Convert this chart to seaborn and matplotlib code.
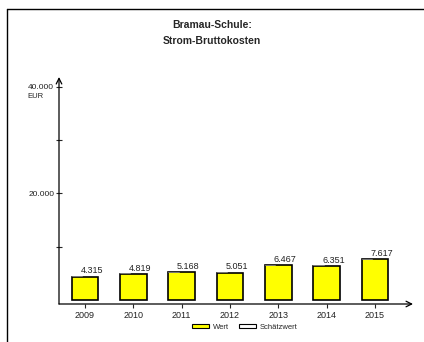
import matplotlib
matplotlib.use("Agg")
import pandas as pd
import seaborn as sns
import matplotlib.pyplot as plt
from matplotlib.lines import Line2D
from matplotlib.patches import Patch

years = ["2009", "2010", "2011", "2012", "2013", "2014", "2015"]
wert = [4315, 4819, 5168, 5051, 6467, 6351, 7617]
value_labels = ["4.315", "4.819", "5.168", "5.051", "6.467", "6.351", "7.617"]
y_ticks = [10000, 20000, 30000, 40000]
y_ticklabels = ["", "20.000", "", "40.000"]

sns.set_style("white")
plt.rcParams['font.family'] = ['Liberation Sans', 'DejaVu Sans']

df = pd.DataFrame({"Jahr": years, "Wert": wert})

fig = plt.figure(figsize=(4.24, 3.42), dpi=100)
ax = fig.add_axes([59 / 424, (342 - 304) / 342, (413 - 59) / 424, (304 - 77) / 342])

sns.barplot(data=df, x="Jahr", y="Wert", color="#ffff00", width=0.55,
            edgecolor="black", linewidth=1.2, saturation=1, ax=ax)

ax.set_xlim(-0.538, 6.787)
ax.set_ylim(-750, 41800)

# value labels with short leader line at the bar top
for i, (v, lab) in enumerate(zip(wert, value_labels)):
    ax.plot([i - 0.275, i - 0.06], [v + 150, v + 150], color="#888888", lw=0.6)
    ax.text(i + 0.14, v + 300, lab, ha="center", va="bottom", fontsize=6.5, color="#222222")

for s in ["top", "right", "left", "bottom"]:
    ax.spines[s].set_visible(False)

# axes with open arrow heads
ax.annotate("", xy=(1, 0), xytext=(0, 0), xycoords="axes fraction",
            arrowprops=dict(arrowstyle="->", lw=0.9, color="black", shrinkA=0, shrinkB=0))
ax.annotate("", xy=(0, 1), xytext=(0, 0), xycoords="axes fraction",
            arrowprops=dict(arrowstyle="->", lw=0.9, color="black", shrinkA=0, shrinkB=0))

ax.set_yticks(y_ticks)
ax.set_yticklabels(y_ticklabels, fontsize=6, color="#222222")
ax.tick_params(axis="y", direction="inout", length=5, width=0.8, left=True, pad=1)
ax.tick_params(axis="x", direction="out", length=3, width=0.8, bottom=True, labelsize=6.5, pad=2,
               labelcolor="#222222")
ax.set_xlabel("")
ax.set_ylabel("")
ax.text(35 / 424, 1 - 96 / 342, "EUR", transform=fig.transFigure, ha="center", va="center",
        fontsize=5.5, color="#222222")

fig.text(0.5, 1 - 25.5 / 342, "Bramau-Schule:", ha="center", va="center",
         fontsize=7.5, fontweight="bold")
fig.text(0.5, 1 - 41 / 342, "Strom-Bruttokosten", ha="center", va="center",
         fontsize=7.5, fontweight="bold")

handles = [Patch(facecolor="#ffff00", edgecolor="black", lw=0.8),
           Patch(facecolor="white", edgecolor="black", lw=0.8)]
fig.legend(handles, ["Wert", "Schätzwert"], loc="center", bbox_to_anchor=(245 / 424, 1 - 327.5 / 342),
           ncol=2, frameon=False, fontsize=5.5, handlelength=2.2, handleheight=0.5,
           columnspacing=1.2, handletextpad=0.6)

# outer frame (top and left)
fig.add_artist(Line2D([7 / 424, 7 / 424], [0, 1 - 9 / 342], color="black", lw=1.0,
                      transform=fig.transFigure))
fig.add_artist(Line2D([7 / 424, 1], [1 - 9 / 342, 1 - 9 / 342], color="black", lw=1.0,
                      transform=fig.transFigure))

fig.savefig("out.png", dpi=100)
